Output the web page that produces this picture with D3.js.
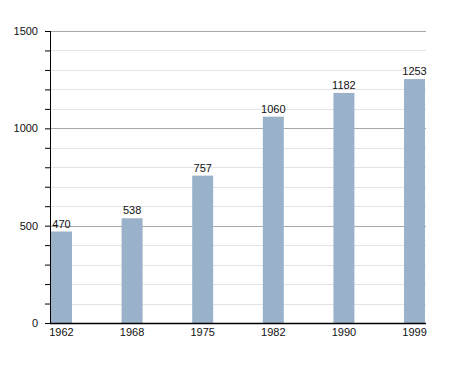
<!DOCTYPE html>
<html>
<head>
<meta charset="utf-8">
<script src="https://cdn.jsdelivr.net/npm/d3@7"></script>
<style>
  body { margin: 0; background: #fff; }
  text { font-family: "Liberation Sans", Arial, sans-serif; font-size: 11px; fill: #111; }
</style>
</head>
<body>
<script>
const years = ['1962', '1968', '1975', '1982', '1990', '1999'];
const population = [470, 538, 757, 1060, 1182, 1253];
const majorTicks = [0, 500, 1000, 1500];
const minorTicks = d3.range(0, 1501, 100);

const margin = { top: 31, right: 29, bottom: 50, left: 50 };
const width = 455 - margin.left - margin.right;
const height = 373 - margin.top - margin.bottom;

const svg = d3.select('body')
  .append('svg')
  .attr('width', 455)
  .attr('height', 373)
  .append('g')
  .attr('transform', `translate(${margin.left},${margin.top})`);

const x = d3.scaleBand()
  .domain(years)
  .range([1, width - 1])
  .paddingInner(0.703)
  .paddingOuter(0);

const y = d3.scaleLinear().domain([0, 1500]).range([height, 0]);

// grid lines
svg.selectAll('.minor')
  .data(minorTicks.filter(d => d % 500 !== 0))
  .enter()
  .append('line')
  .attr('x1', 0)
  .attr('x2', width)
  .attr('y1', d => Math.round(y(d)) + 0.5)
  .attr('y2', d => Math.round(y(d)) + 0.5)
  .attr('stroke', '#e3e3e3');

svg.selectAll('.major')
  .data(majorTicks.filter(d => d > 0))
  .enter()
  .append('line')
  .attr('x1', 0)
  .attr('x2', width)
  .attr('y1', d => Math.round(y(d)) + 0.5)
  .attr('y2', d => Math.round(y(d)) + 0.5)
  .attr('stroke', '#a8a8a8');

// bars
svg.selectAll('.bar')
  .data(years)
  .enter()
  .append('rect')
  .attr('x', d => x(d))
  .attr('width', x.bandwidth())
  .attr('y', (d, i) => y(population[i]))
  .attr('height', (d, i) => height - y(population[i]))
  .attr('fill', '#9ab1ca');

svg.selectAll('.value')
  .data(years)
  .enter()
  .append('text')
  .attr('x', d => x(d) + x.bandwidth() / 2)
  .attr('y', (d, i) => y(population[i]) - 4)
  .attr('text-anchor', 'middle')
  .text((d, i) => population[i]);

// y axis
const yAxis = svg.append('g')
  .call(d3.axisLeft(y).tickValues(minorTicks).tickSize(5).tickPadding(7)
    .tickFormat(d => d % 500 === 0 ? d : ''));
yAxis.select('.domain').attr('stroke', '#000').attr('d', `M0.5,0V${height}`);
yAxis.selectAll('text').style('font-size', '11px').style('font-family', '"Liberation Sans", Arial, sans-serif').attr('fill', '#111');

// x axis
const xAxis = svg.append('g')
  .attr('transform', `translate(0,${height})`)
  .call(d3.axisBottom(x).tickSize(0).tickPadding(5));
xAxis.select('.domain').attr('stroke', '#000').attr('stroke-width', 1.3).attr('d', `M0,0.5H${width}`);
xAxis.selectAll('text').style('font-size', '11px').style('font-family', '"Liberation Sans", Arial, sans-serif').attr('fill', '#111');
</script>
</body>
</html>
